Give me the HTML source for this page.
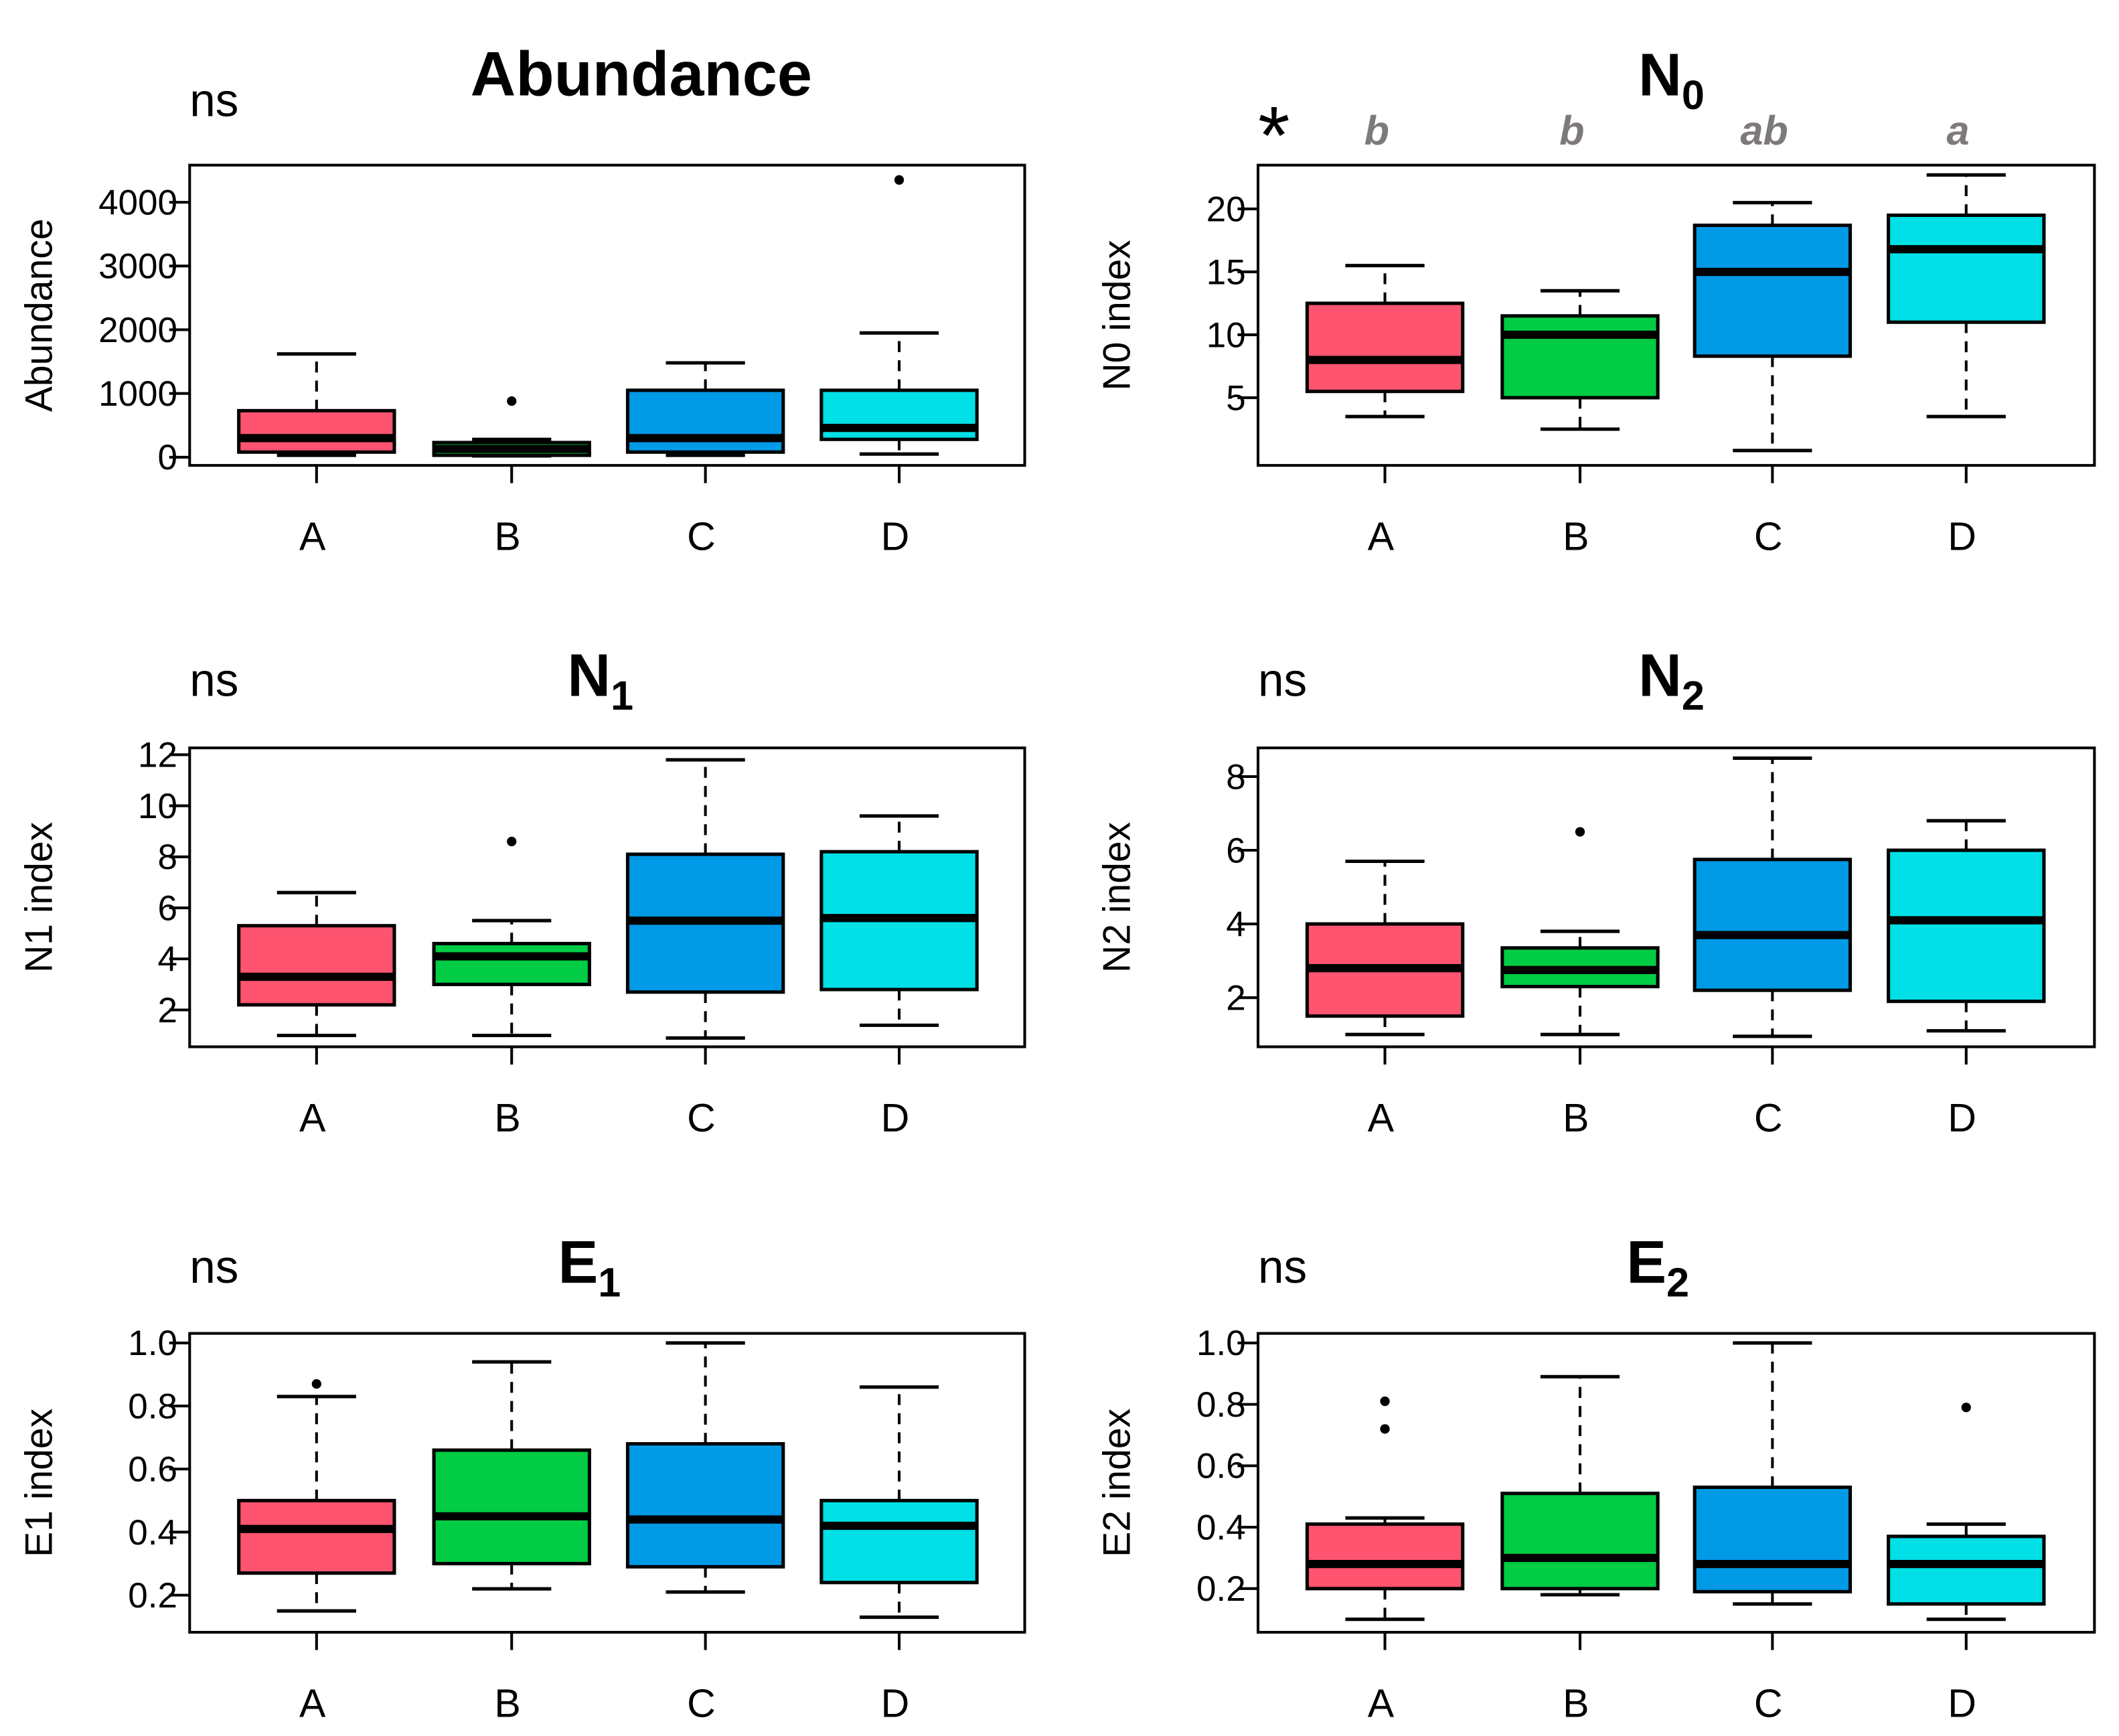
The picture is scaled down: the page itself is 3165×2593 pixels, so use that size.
<!DOCTYPE html>
<html><head><meta charset="utf-8"><style>
html,body{margin:0;padding:0;background:#fff;}
svg{display:block;font-family:"Liberation Sans",Arial,sans-serif;}
</style></head><body>
<svg id="chart" width="3165" height="2593" viewBox="0 0 1553 1272" preserveAspectRatio="none" xmlns="http://www.w3.org/2000/svg"></svg>
<script>
const categories = ["A","B","C","D"];
const colors = ["#ff5470","#00cc44","#009ae6","#00e0e6"];
// [lo, q1, median, q3, hi]
const abundanceStats = [[30,80,300,730,1620],[20,30,130,230,280],[30,80,300,1050,1480],[50,280,460,1050,1950]];
const abundanceOut = [[],[880],[],[4350]];
const abundanceTicks = [0,1000,2000,3000,4000];
const n0Stats = [[3.5,5.5,8,12.5,15.5],[2.5,5,10,11.5,13.5],[0.8,8.3,15,18.7,20.5],[3.5,11,16.8,19.5,22.7]];
const n0Out = [[],[],[],[]];
const n0Ticks = [5,10,15,20];
const n0Letters = ["b","b","ab","a"];
const n1Stats = [[1,2.2,3.3,5.3,6.6],[1,3,4.1,4.6,5.5],[0.9,2.7,5.5,8.1,11.8],[1.4,2.8,5.6,8.2,9.6]];
const n1Out = [[],[8.6],[],[]];
const n1Ticks = [2,4,6,8,10,12];
const n2Stats = [[1,1.5,2.8,4,5.7],[1,2.3,2.75,3.35,3.8],[0.95,2.2,3.7,5.75,8.5],[1.1,1.9,4.1,6,6.8]];
const n2Out = [[],[6.5],[],[]];
const n2Ticks = [2,4,6,8];
const e1Stats = [[0.15,0.27,0.41,0.5,0.83],[0.22,0.3,0.45,0.66,0.94],[0.21,0.29,0.44,0.68,1.0],[0.13,0.24,0.42,0.5,0.86]];
const e1Out = [[0.87],[],[],[]];
const e1Ticks = [0.2,0.4,0.6,0.8,1.0];
const e2Stats = [[0.1,0.2,0.28,0.41,0.43],[0.18,0.2,0.3,0.51,0.89],[0.15,0.19,0.28,0.53,1.0],[0.1,0.15,0.28,0.37,0.41]];
const e2Out = [[0.72,0.81],[],[],[0.79]];
const e2Ticks = [0.2,0.4,0.6,0.8,1.0];

const svg = document.getElementById('chart');
const NS = "http://www.w3.org/2000/svg";
function el(tag, attrs, parent){const e=document.createElementNS(NS,tag);for(const k in attrs)e.setAttribute(k,attrs[k]);(parent||svg).appendChild(e);return e;}

function panel(cfg){
  const g = el('g',{});
  
  
  const {x0,x1,y0,y1} = cfg;
  const yScale = v => cfg.yZero - v*cfg.ppu;
  const xScale = i => cfg.xc[i];
  const t = el('text',{x:cfg.titleX,y:cfg.titleY,'font-size':cfg.titleSize||44,'font-weight':'bold','text-anchor':'middle'},g);
  
  
  t.textContent = cfg.title;
  if(cfg.sub){const s=el('tspan',{'font-size':30,dy:10},t);s.textContent=cfg.sub;}
  const sg = el('text',{x:x0,y:cfg.sigY||y0-36,'font-size':cfg.sig==='*'?60:34},g);
  
  
  sg.textContent = cfg.sig;
  const fr = el('rect',{x:x0,y:y0,width:x1-x0,height:y1-y0,fill:'none',stroke:'#000','stroke-width':2},g);
  
  
  cfg.ticks.forEach(v=>{
    const y=yScale(v);
    el('line',{x1:x0-15,x2:x0,y1:y,y2:y,stroke:'#000','stroke-width':2},g);
    const tl=el('text',{x:x0-9,y:y+9,'font-size':26,'text-anchor':'end'},g);
    
    
    tl.textContent = cfg.fmt ? cfg.fmt(v) : v;
  });
  const cy=(y0+y1)/2, lx=cfg.ylabX;
  const yt=el('text',{x:lx,y:cy,'font-size':28,'text-anchor':'middle',transform:`rotate(-90 ${lx} ${cy})`},g);
  
  
  yt.textContent = cfg.ylab;
  categories.forEach((c,i)=>{
    const xc=xScale(i), s=cfg.stats[i], hw=57, cw=29;
    const bg=el('g',{},g);
    
    
    el('line',{x1:xc,x2:xc,y1:yScale(s[3]),y2:yScale(s[4]),stroke:'#000','stroke-width':2,'stroke-dasharray':'8,6'},bg);
    el('line',{x1:xc,x2:xc,y1:yScale(s[1]),y2:yScale(s[0]),stroke:'#000','stroke-width':2,'stroke-dasharray':'8,6'},bg);
    el('line',{x1:xc-cw,x2:xc+cw,y1:yScale(s[4]),y2:yScale(s[4]),stroke:'#000','stroke-width':2.5},bg);
    el('line',{x1:xc-cw,x2:xc+cw,y1:yScale(s[0]),y2:yScale(s[0]),stroke:'#000','stroke-width':2.5},bg);
    el('rect',{x:xc-hw,y:yScale(s[3]),width:2*hw,height:Math.max(1,yScale(s[1])-yScale(s[3])),fill:colors[i],stroke:'#000','stroke-width':2.5},bg);
    el('line',{x1:xc-hw,x2:xc+hw,y1:yScale(s[2]),y2:yScale(s[2]),stroke:'#000','stroke-width':6},bg);
    cfg.out[i].forEach(o=>{
      const p=el('circle',{cx:xc,cy:yScale(o),r:3.5,fill:'#000'},bg);
      
      
    });
    el('line',{x1:xc,x2:xc,y1:y1,y2:y1+13,stroke:'#000','stroke-width':2},g);
    const xl=el('text',{x:xc-3,y:y1+62,'font-size':29,'text-anchor':'middle'},g);
    
    
    xl.textContent=c;
    if(cfg.letters){
      const lt=el('text',{x:xc-6,y:106,'font-size':30,'font-weight':'bold','font-style':'italic',fill:'#7f7a7a','text-anchor':'middle'},g);
      
      
      lt.textContent=cfg.letters[i];
    }
  });
}
const L={x0:139,x1:751,xc:[232,375,517,659],ylabX:38};
const R={x0:922,x1:1535,xc:[1015,1158,1299,1441],ylabX:828};
const f1 = v=>v.toFixed(1);
panel({...L,name:'abundance',y0:121,y1:341,yZero:335,ppu:0.0467,ticks:abundanceTicks,stats:abundanceStats,out:abundanceOut,title:'Abundance',titleSize:46,titleX:470,titleY:70,sig:'ns',sigY:85,ylab:'Abundance',ylabX:38});
panel({...R,name:'n0',y0:121,y1:341,yZero:337.5,ppu:9.22,ticks:n0Ticks,stats:n0Stats,out:n0Out,title:'N',sub:'0',titleX:1225,titleY:70,sig:'*',sigY:120,ylab:'N0 index',letters:n0Letters});
panel({...L,name:'n1',y0:548,y1:767,yZero:777.4,ppu:18.7,ticks:n1Ticks,stats:n1Stats,out:n1Out,title:'N',sub:'1',titleX:440,titleY:510,sig:'ns',sigY:510,ylab:'N1 index'});
panel({...R,name:'n2',y0:548,y1:767,yZero:785,ppu:27,ticks:n2Ticks,stats:n2Stats,out:n2Out,title:'N',sub:'2',titleX:1225,titleY:510,sig:'ns',sigY:510,ylab:'N2 index'});
panel({...L,name:'e1',y0:977,y1:1196,yZero:1215,ppu:231,ticks:e1Ticks,stats:e1Stats,out:e1Out,title:'E',sub:'1',titleX:432,titleY:940,sig:'ns',sigY:940,ylab:'E1 index',fmt:f1});
panel({...R,name:'e2',y0:977,y1:1196,yZero:1209,ppu:225,ticks:e2Ticks,stats:e2Stats,out:e2Out,title:'E',sub:'2',titleX:1215,titleY:940,sig:'ns',sigY:940,ylab:'E2 index',fmt:f1});
</script>
</body></html>
